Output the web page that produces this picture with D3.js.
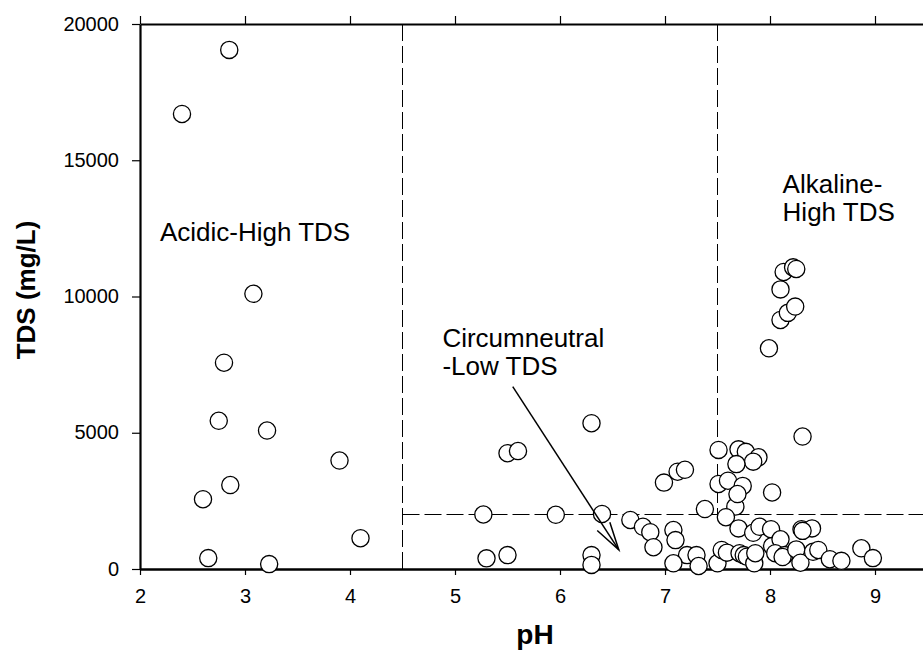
<!DOCTYPE html>
<html>
<head>
<meta charset="utf-8">
<script src="https://cdn.jsdelivr.net/npm/d3@7"></script>
<style>
  html, body { margin: 0; padding: 0; background: #fff; }
  svg { display: block; }
  text { font-family: "Liberation Sans", Arial, Helvetica, sans-serif; fill: #000; }
</style>
</head>
<body>
<svg id="chart" width="923" height="654"></svg>
<script>
// ---- data (pH, TDS mg/L) ----
const pH = [
  2.40, 2.85, 3.08, 2.80, 2.75, 3.21, 3.90, 2.86, 2.60, 2.65, 3.23, 4.10,
  5.27, 5.30, 5.50, 5.50, 5.60, 5.96, 6.30, 6.40, 6.30, 6.30,
  6.67, 6.79, 6.86, 6.89, 6.99, 7.08, 7.10, 7.12, 7.19, 7.21, 7.08, 7.30, 7.32, 7.38,
  8.13, 8.22, 8.25, 8.10, 8.10, 8.17, 8.24, 7.99, 8.31,
  7.51, 7.70, 7.77, 7.89, 7.84, 7.68, 7.51, 7.60, 7.74, 7.67, 7.69, 8.02, 7.58, 7.70, 7.84, 7.90, 8.01, 8.30, 8.40, 8.31,
  7.50, 7.54, 7.59, 7.71, 7.75, 7.78, 7.85, 7.86, 8.02, 8.10, 8.05, 8.14, 8.12, 8.25, 8.29, 8.41, 8.46, 8.57, 8.68, 8.87, 8.98
];
const tds = [
  16700, 19050, 10100, 7570, 5440, 5080, 3980, 3080, 2560, 400, 180, 1130,
  2000, 390, 4250, 510, 4330, 1990, 5350, 2020, 510, 150,
  1800, 1550, 1350, 800, 3170, 1430, 1060, 3570, 3640, 510, 210, 510, 110, 2200,
  10900, 11070, 11010, 10260, 9140, 9400, 9630, 8100, 4860,
  4370, 4390, 4300, 4100, 3940, 3850, 3120, 3240, 3050, 2290, 2750, 2810, 1900, 1490, 1330, 1550, 1460, 1460, 1490, 1400,
  210, 700, 600, 580, 510, 450, 210, 580, 840, 1090, 580, 510, 440, 720, 230, 630, 700, 360, 300, 760, 400
];

const xTicks = [2, 3, 4, 5, 6, 7, 8, 9];
const yTicks = [0, 5000, 10000, 15000, 20000];

// region boundaries
const acidicLimit = 4.5;
const alkalineLimit = 7.5;
const tdsLimit = 2000;

// annotations (data units)
const labelTexts = [
  { lines: ["Acidic-High TDS"], x: 2.19, y: 12040 },
  { lines: ["Circumneutral", "-Low TDS"], x: 4.88, y: 8150 },
  { lines: ["Alkaline-", "High TDS"], x: 8.12, y: 13790 }
];
const arrowFrom = [5.55, 6690];
const arrowTo = [6.56, 700];

// ---- chart ----
const svg = d3.select("#chart");

const x = d3.scaleLinear().domain([2, 10]).range([140, 980]);
const y = d3.scaleLinear().domain([0, 20000]).range([569, 24]);

const dash = "17,5";

// dashed region lines
svg.append("line")
  .attr("x1", x(acidicLimit)).attr("x2", x(acidicLimit))
  .attr("y1", y(20000)).attr("y2", y(0))
  .attr("stroke", "#000").attr("stroke-width", 1).attr("stroke-dasharray", dash);
svg.append("line")
  .attr("x1", x(alkalineLimit)).attr("x2", x(alkalineLimit))
  .attr("y1", y(20000)).attr("y2", y(tdsLimit))
  .attr("stroke", "#000").attr("stroke-width", 1).attr("stroke-dasharray", dash);
svg.append("line")
  .attr("x1", x(acidicLimit)).attr("x2", x(10))
  .attr("y1", y(tdsLimit)).attr("y2", y(tdsLimit))
  .attr("stroke", "#000").attr("stroke-width", 1).attr("stroke-dasharray", dash);

// axes
const fmt = d3.format("d");
const gx = svg.append("g").attr("transform", `translate(0,${y(0)})`)
  .call(d3.axisBottom(x).tickValues(xTicks).tickFormat(fmt).tickSizeInner(6).tickSizeOuter(0).tickPadding(14));
const gxTop = svg.append("g").attr("transform", `translate(0,${y(20000)})`)
  .call(d3.axisTop(x).tickValues(xTicks).tickFormat("").tickSizeInner(8).tickSizeOuter(0));
const gy = svg.append("g").attr("transform", `translate(${x(2)},0)`)
  .call(d3.axisLeft(y).tickValues(yTicks).tickFormat(fmt).tickSizeInner(8).tickSizeOuter(0).tickPadding(13));

[gx, gxTop, gy].forEach(g => {
  g.select(".domain").attr("stroke", "#000").attr("stroke-width", 2.2);
  g.selectAll(".tick line").attr("stroke", "#000").attr("stroke-width", 1.2);
  g.selectAll(".tick text").attr("font-size", 20).attr("font-family", "Liberation Sans, Arial, sans-serif").attr("fill", "#000");
});
gx.select(".domain").attr("stroke-width", 2.6);
gy.selectAll(".tick text").attr("dy", "0.3em");

// points
svg.append("g").selectAll("circle")
  .data(pH.map((p, i) => [p, tds[i]]))
  .join("circle")
  .attr("cx", d => x(d[0]))
  .attr("cy", d => y(d[1]))
  .attr("r", 8.6)
  .attr("fill", "#fff")
  .attr("stroke", "#000")
  .attr("stroke-width", 1.3);

// annotation texts
labelTexts.forEach(l => {
  l.lines.forEach((t, i) => {
    svg.append("text")
      .attr("x", x(l.x))
      .attr("y", y(l.y) + i * 28)
      .attr("font-size", 26)
      .text(t);
  });
});

// arrow
const ax1 = x(arrowFrom[0]), ay1 = y(arrowFrom[1]);
const ax2 = x(arrowTo[0]), ay2 = y(arrowTo[1]);
svg.append("line")
  .attr("x1", ax1).attr("y1", ay1).attr("x2", ax2).attr("y2", ay2)
  .attr("stroke", "#000").attr("stroke-width", 1.5);
const ang = Math.atan2(ay2 - ay1, ax2 - ax1);
const headLen = 29, half = 15 * Math.PI / 180;
const p1 = [ax2 - headLen * Math.cos(ang - half), ay2 - headLen * Math.sin(ang - half)];
const p2 = [ax2 - headLen * Math.cos(ang + half), ay2 - headLen * Math.sin(ang + half)];
svg.append("path")
  .attr("d", `M${p1[0]},${p1[1]}L${ax2},${ay2}L${p2[0]},${p2[1]}`)
  .attr("fill", "none").attr("stroke", "#000").attr("stroke-width", 1.5);

// axis titles
svg.append("text")
  .attr("x", 535).attr("y", 644)
  .attr("text-anchor", "middle")
  .attr("font-size", 28).attr("font-weight", "bold")
  .text("pH");
svg.append("text")
  .attr("transform", `translate(35,290) rotate(-90)`)
  .attr("text-anchor", "middle")
  .attr("font-size", 26).attr("font-weight", "bold")
  .text("TDS (mg/L)");
</script>
</body>
</html>
